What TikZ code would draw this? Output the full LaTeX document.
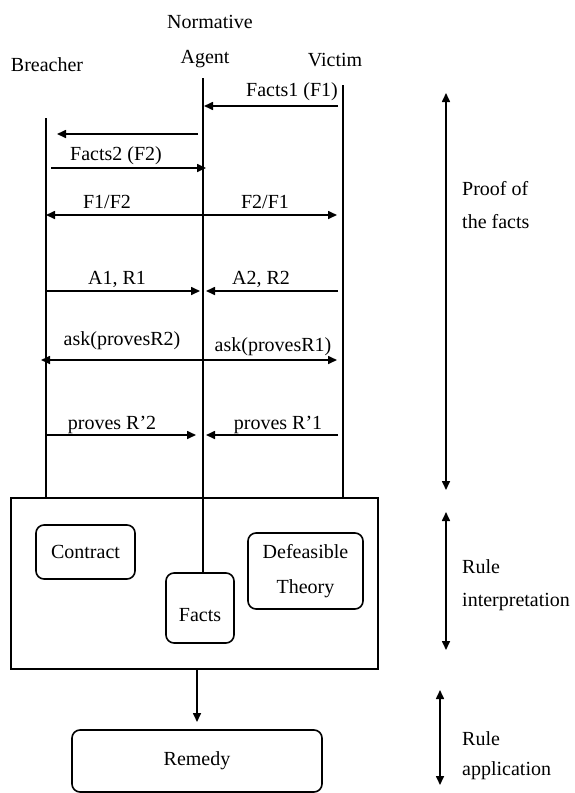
\documentclass[tikz,border=0pt]{standalone}
\usepackage{fontspec}
\setmainfont{Liberation Serif}
\usetikzlibrary{arrows.meta}
\begin{document}
\begin{tikzpicture}[x=1pt,y=-1pt,
  every node/.style={font=\fontsize{20}{24}\selectfont, inner sep=0pt},
  lbl/.style={anchor=base},
  side/.style={anchor=base west},
  life/.style={line width=1.6pt},
  msg/.style={line width=1.6pt, -{Triangle[length=9pt,width=8pt]}},
  span/.style={line width=1.6pt, {Triangle[length=9pt,width=8pt]}-{Triangle[length=9pt,width=8pt]}},
  rbox/.style={draw, line width=1.6pt, rounded corners=8pt, align=center},
  bigbox/.style={draw, line width=1.6pt}
]
\useasboundingbox (0,0) rectangle (574,793);

% headings
\node[lbl] (normative) at (210,28) {Normative};
\node[lbl] (agent) at (205,63) {Agent};
\node[lbl] (breacher) at (47,71) {Breacher};
\node[lbl] (victim) at (335,66) {Victim};

% boxes
\node[bigbox, minimum width=367pt, minimum height=171pt] (rulebox) at (194.5,583.5) {};
\node[rbox, minimum width=99pt, minimum height=54pt] (contract) at (85.5,552) {Contract};
\node[rbox, minimum width=115pt, minimum height=76pt, font=\fontsize{20}{35}\selectfont] (defeasible) at (305.5,571) {Defeasible\\Theory};
\node[rbox, minimum width=68pt, minimum height=70pt, text depth=0pt, text height=0pt] (facts) at (200,608) {\raisebox{-13pt}{Facts}};
\node[rbox, minimum width=250pt, minimum height=62pt] (remedy) at (197,761) {Remedy};

% lifelines
\coordinate (Btop) at (46,118);
\coordinate (Atop) at (203,78);
\coordinate (Vtop) at (343,85);
\draw[life] (Btop) -- (Btop |- rulebox.north);
\draw[life] (Atop) -- (Atop |- facts.north);
\draw[life] (Vtop) -- (Vtop |- rulebox.north);

% messages
\coordinate (m1s) at (338,106); \coordinate (m1e) at (204,106);
\draw[msg] (m1s) -- (m1e);
\node[lbl] (f1) at (292,96) {Facts1 (F1)};

\coordinate (m2s) at (198,134); \coordinate (m2e) at (57,134);
\draw[msg] (m2s) -- (m2e);

\coordinate (m3s) at (51,168); \coordinate (m3e) at (206,168);
\draw[msg] (m3s) -- (m3e);
\node[lbl] (f2) at (116,160) {Facts2 (F2)};

\coordinate (m4l) at (46,215); \coordinate (m4r) at (337,215);
\draw[span] (m4l) -- (m4r);
\node[lbl] (f1f2) at (107,208) {F1/F2};
\node[lbl] (f2f1) at (265,208) {F2/F1};

\coordinate (m5ls) at (46,291); \coordinate (m5le) at (200,291);
\coordinate (m5rs) at (338,291); \coordinate (m5re) at (206,291);
\draw[msg] (m5ls) -- (m5le);
\draw[msg] (m5rs) -- (m5re);
\node[lbl] (a1r1) at (117,284) {A1, R1};
\node[lbl] (a2r2) at (261,284) {A2, R2};

\coordinate (m6l) at (41,360); \coordinate (m6r) at (337,360);
\draw[span] (m6l) -- (m6r);
\node[lbl] (ask2) at (122,345) {ask(provesR2)};
\node[lbl] (ask1) at (273,351) {ask(provesR1)};

\coordinate (m7ls) at (46,435); \coordinate (m7le) at (196,435);
\coordinate (m7rs) at (338,435); \coordinate (m7re) at (206,435);
\draw[msg] (m7ls) -- (m7le);
\draw[msg] (m7rs) -- (m7re);
\node[lbl] (pr2) at (112,429) {proves R’2};
\node[lbl] (pr1) at (278,429) {proves R’1};

% to remedy
\coordinate (rbot) at (197,669);
\coordinate (rtip) at (197,722);
\draw[msg] (rbot) -- (rtip);

% phases
\coordinate (p1t) at (446,93); \coordinate (p1b) at (446,490);
\draw[span] (p1t) -- (p1b);
\node[side] (proof1) at (462,195) {Proof of};
\node[side] (proof2) at (462,228) {the facts};

\coordinate (p2t) at (446,512); \coordinate (p2b) at (446,650);
\draw[span] (p2t) -- (p2b);
\node[side] (ri1) at (462,573) {Rule};
\node[side] (ri2) at (462,606) {interpretation};

\coordinate (p3t) at (440,690); \coordinate (p3b) at (440,785);
\draw[span] (p3t) -- (p3b);
\node[side] (ra1) at (462,745) {Rule};
\node[side] (ra2) at (462,775) {application};
\end{tikzpicture}
\end{document}
